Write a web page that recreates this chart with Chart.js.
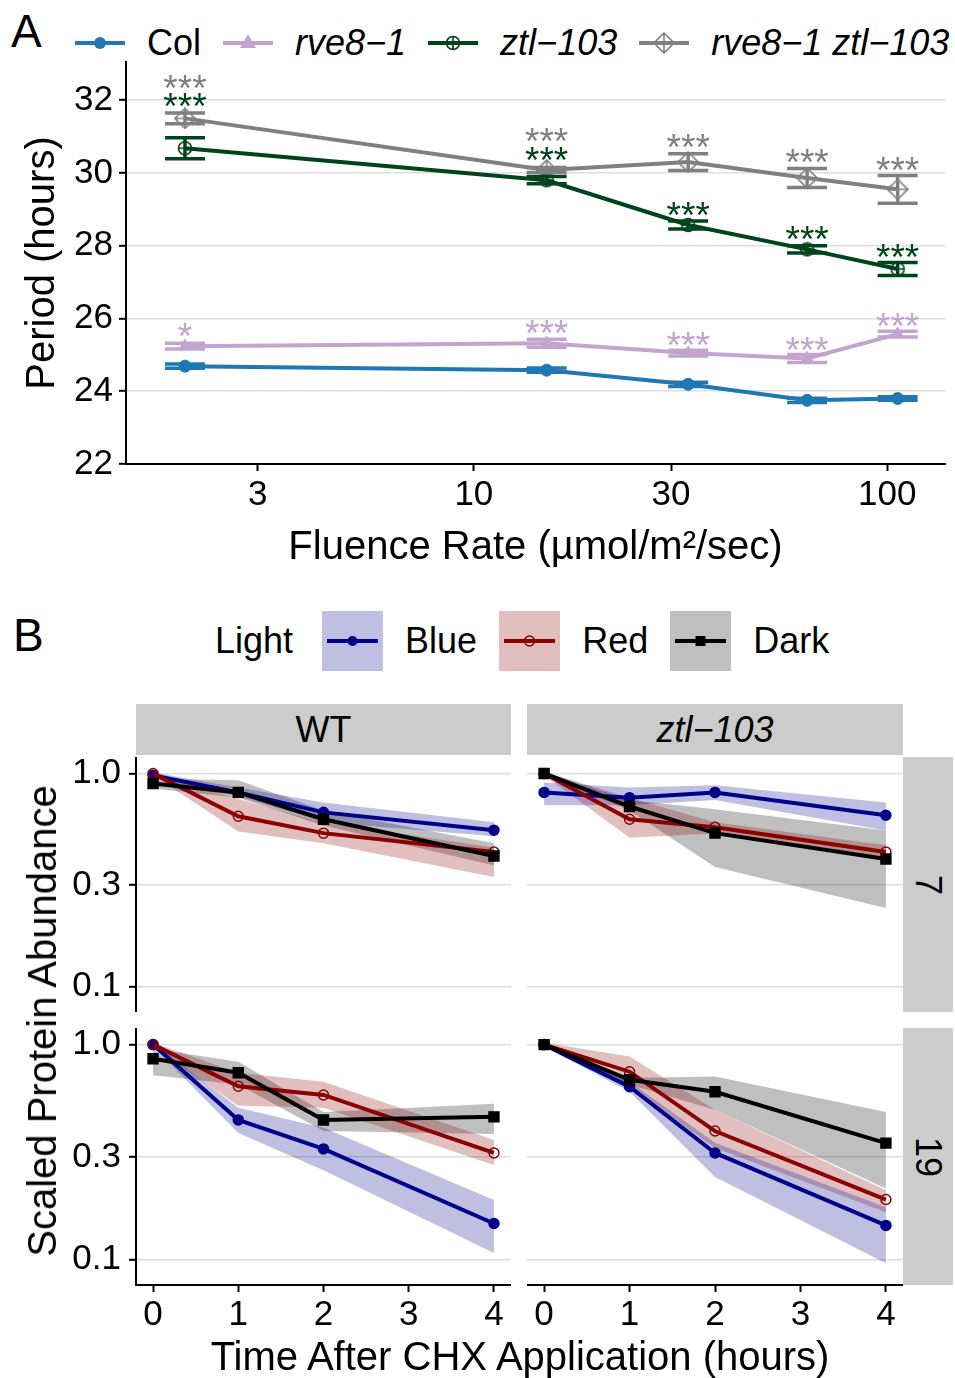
<!DOCTYPE html>
<html>
<head>
<meta charset="utf-8">
<script src="https://cdn.jsdelivr.net/npm/chart.js@4.4.1/dist/chart.umd.min.js"></script>
<style>
body { margin:0; background:#fff; }
#wrap { position:relative; width:955px; height:1378px; background:#fff; overflow:hidden;
        font-family:"Liberation Sans", Arial, sans-serif; color:#000; }
canvas { position:absolute; }
.tag { position:absolute; font-size:46px; line-height:1; }
.legend { position:absolute; display:flex; align-items:center; font-size:36px; white-space:nowrap; }
.legend canvas { position:static; }
.strip { position:absolute; background:#cccccc; display:flex; align-items:center; justify-content:center; font-size:36px; }
.ttl { position:absolute; font-size:40px; white-space:nowrap; line-height:1; }
</style>
</head>
<body>
<div id="wrap">
  <div class="tag" style="left:11px;top:8px;">A</div>
  <div class="legend" id="legA" style="left:75px;top:22px;height:42px;"></div>
  <canvas id="chartA" width="955" height="580" style="left:0;top:0;"></canvas>

  <div class="tag" style="left:13px;top:612px;">B</div>
  <div class="legend" id="legB" style="left:215px;top:611px;height:60px;"></div>

  <div class="strip" style="left:136px;top:704px;width:375px;height:51px;">WT</div>
  <div class="strip" style="left:527px;top:704px;width:376px;height:51px;"><i>ztl−103</i></div>
  <div class="strip" style="left:903px;top:757px;width:50px;height:255px;"><span style="transform:rotate(90deg)">7</span></div>
  <div class="strip" style="left:903px;top:1028px;width:50px;height:257px;"><span style="transform:rotate(90deg)">19</span></div>

  <canvas id="wt7" width="511" height="255" style="left:0;top:757px;"></canvas>
  <canvas id="ztl7" width="376" height="255" style="left:527px;top:757px;"></canvas>
  <canvas id="wt19" width="511" height="312" style="left:0;top:1028px;"></canvas>
  <canvas id="ztl19" width="376" height="312" style="left:527px;top:1028px;"></canvas>

  <div class="ttl" style="left:42px;top:1021px;transform:translate(-50%,-50%) rotate(-90deg);">Scaled Protein Abundance</div>
  <div class="ttl" style="left:520px;top:1356px;transform:translate(-50%,-50%);">Time After CHX Application (hours)</div>
</div>

<script>
// ---------- panel A : free-running period vs fluence rate ----------
var FLUENCE = [2, 15, 33, 64, 106];
var GENOTYPES = ['Col', 'rve8−1', 'ztl−103', 'rve8−1 ztl−103'];
var PERIOD_COL    = [24.69, 24.58, 24.19, 23.75, 23.80];
var PERIOD_RVE8   = [25.24, 25.32, 25.05, 24.90, 25.57];
var PERIOD_ZTL    = [30.68, 29.80, 28.57, 27.90, 27.36];
var PERIOD_DOUBLE = [31.50, 30.08, 30.30, 29.86, 29.55];
var SE_COL    = [0.06, 0.06, 0.06, 0.06, 0.05];
var SE_RVE8   = [0.08, 0.11, 0.08, 0.11, 0.08];
var SE_ZTL    = [0.29, 0.10, 0.11, 0.10, 0.18];
var SE_DOUBLE = [0.15, 0.07, 0.23, 0.26, 0.38];
var SIG_RVE8   = ['*', '***', '***', '***', '***'];
var SIG_ZTL    = ['***', '***', '***', '***', '***'];
var SIG_DOUBLE = ['***', '***', '***', '***', '***'];
var SIGY_RVE8   = [25.74, 25.82, 25.49, 25.35, 26.01];
var SIGY_ZTL    = [32.05, 30.57, 29.06, 28.40, 27.91];
var SIGY_DOUBLE = [32.55, 31.09, 30.93, 30.52, 30.30];
var Y_TICKS_A = [22, 24, 26, 28, 30, 32];
var X_TICKS_A = [3, 10, 30, 100];

// ---------- panel B : protein abundance after CHX ----------
var HOURS = [0, 1, 2, 4];
var LIGHTS = ['Blue', 'Red', 'Dark'];
var X_TICKS_B = [0, 1, 2, 3, 4];
var Y_TICKS_B = [0.1, 0.3, 1.0];

var WT7_BLUE = [0.98, 0.815, 0.657, 0.542];
var WT7_BLUE_LO = [0.95, 0.78, 0.59, 0.507];
var WT7_BLUE_HI = [1.01, 0.86, 0.73, 0.59];
var WT7_RED = [1.0, 0.63, 0.525, 0.428];
var WT7_RED_LO = [0.98, 0.535, 0.47, 0.327];
var WT7_RED_HI = [1.02, 0.76, 0.59, 0.45];
var WT7_DARK = [0.898, 0.815, 0.61, 0.41];
var WT7_DARK_LO = [0.85, 0.77, 0.57, 0.37];
var WT7_DARK_HI = [0.946, 0.93, 0.67, 0.47];

var ZTL7_BLUE = [0.815, 0.77, 0.815, 0.637];
var ZTL7_BLUE_LO = [0.71, 0.71, 0.75, 0.54];
var ZTL7_BLUE_HI = [0.907, 0.86, 0.88, 0.73];
var ZTL7_RED = [1.0, 0.61, 0.56, 0.428];
var ZTL7_RED_LO = [0.98, 0.5, 0.525, 0.405];
var ZTL7_RED_HI = [1.02, 0.77, 0.59, 0.46];
var ZTL7_DARK = [1.0, 0.70, 0.525, 0.397];
var ZTL7_DARK_LO = [0.98, 0.67, 0.364, 0.234];
var ZTL7_DARK_HI = [1.02, 0.75, 0.68, 0.54];

var WT19_BLUE = [1.0, 0.446, 0.327, 0.147];
var WT19_BLUE_LO = [0.98, 0.388, 0.26, 0.107];
var WT19_BLUE_HI = [1.02, 0.508, 0.41, 0.189];
var WT19_RED = [1.0, 0.64, 0.583, 0.313];
var WT19_RED_LO = [0.98, 0.519, 0.508, 0.275];
var WT19_RED_HI = [1.02, 0.74, 0.672, 0.36];
var WT19_DARK = [0.86, 0.74, 0.446, 0.461];
var WT19_DARK_LO = [0.72, 0.652, 0.396, 0.384];
var WT19_DARK_HI = [0.957, 0.833, 0.486, 0.53];

var ZTL19_BLUE = [1.0, 0.637, 0.313, 0.144];
var ZTL19_BLUE_LO = [0.98, 0.603, 0.242, 0.096];
var ZTL19_BLUE_HI = [1.02, 0.672, 0.349, 0.175];
var ZTL19_RED = [1.0, 0.748, 0.396, 0.19];
var ZTL19_RED_LO = [0.98, 0.637, 0.33, 0.166];
var ZTL19_RED_HI = [1.02, 0.88, 0.497, 0.21];
var ZTL19_DARK = [1.0, 0.686, 0.603, 0.348];
var ZTL19_DARK_LO = [0.98, 0.65, 0.497, 0.214];
var ZTL19_DARK_HI = [1.02, 0.70, 0.71, 0.486];

var COLORS_A = ['#1f78b4', '#c2a5cf', '#00441b', '#808080'];
var COLORS_B = ['#00008b', '#8b0000', '#000000'];
var RIBBON_B = ['rgba(0,0,139,0.25)', 'rgba(139,0,0,0.25)', 'rgba(0,0,0,0.25)'];
var FONT = '"Liberation Sans", Arial, sans-serif';

Chart.defaults.font.family = FONT;
Chart.defaults.color = '#000';

// hollow ggplot-style symbols (shape 10 and 9)
function markerCanvas(shape, color, size)
{
  var c = document.createElement('canvas');
  c.width = size; c.height = size;
  var g = c.getContext('2d');
  var m = size / 2;
  g.strokeStyle = color;
  g.lineWidth = 1.6;
  g.beginPath();
  if (shape == 'circlePlus') {
    g.arc(m, m, m - 1.5, 0, Math.PI * 2);
  } else {
    g.moveTo(m, 1); g.lineTo(size - 1, m); g.lineTo(m, size - 1); g.lineTo(1, m); g.closePath();
  }
  g.moveTo(1.5, m); g.lineTo(size - 1.5, m);
  g.moveTo(m, 1.5); g.lineTo(m, size - 1.5);
  g.stroke();
  return c;
}

var MARK_ZTL = markerCanvas('circlePlus', COLORS_A[2], 16);
var MARK_DOUBLE = markerCanvas('diamondPlus', COLORS_A[3], 22);

function toPoints(xs, ys)
{
  var out = [];
  for (var i = 0; i < xs.length; i++) out.push({x: xs[i], y: ys[i]});
  return out;
}

// no automatic label padding, the panel must fill its canvas exactly
function noPadding(s)
{
  s.paddingTop = 0; s.paddingBottom = 0; s.paddingLeft = 0; s.paddingRight = 0;
}

// error bars + significance stars
var errorBarPlugin = {
  id: 'errorBars',
  afterDatasetsDraw: function(chart) {
    var ctx = chart.ctx, xs = chart.scales.x, ys = chart.scales.y;
    chart.data.datasets.forEach(function(ds) {
      ctx.save();
      ctx.strokeStyle = ds.borderColor;
      ctx.lineWidth = 3.5;
      ds.data.forEach(function(p, i) {
        var x = xs.getPixelForValue(p.x);
        var top = ys.getPixelForValue(p.y + ds.errors[i]);
        var bot = ys.getPixelForValue(p.y - ds.errors[i]);
        ctx.beginPath();
        ctx.moveTo(x - 20, top); ctx.lineTo(x + 20, top);
        ctx.moveTo(x, top); ctx.lineTo(x, bot);
        ctx.moveTo(x - 20, bot); ctx.lineTo(x + 20, bot);
        ctx.stroke();
      });
      if (ds.sig) {
        ctx.fillStyle = ds.borderColor;
        ctx.font = '37px ' + FONT;
        ctx.textAlign = 'center';
        ctx.textBaseline = 'alphabetic';
        ds.data.forEach(function(p, i) {
          ctx.fillText(ds.sig[i], xs.getPixelForValue(p.x), ys.getPixelForValue(ds.sigY[i]) + 21);
        });
      }
      ctx.restore();
    });
  }
};

function seriesA(idx, vals, errs, style, radius, sig, sigY)
{
  return {
    label: GENOTYPES[idx],
    data: toPoints(FLUENCE, vals),
    errors: errs, sig: sig, sigY: sigY,
    borderColor: COLORS_A[idx],
    backgroundColor: COLORS_A[idx],
    borderWidth: 4,
    pointStyle: style,
    pointRadius: radius,
    pointBorderWidth: 1,
    tension: 0,
    fill: false,
    order: 4 - idx
  };
}

new Chart(document.getElementById('chartA'), {
  type: 'line',
  data: {
    datasets: [
      seriesA(0, PERIOD_COL, SE_COL, 'circle', 6, null, null),
      seriesA(1, PERIOD_RVE8, SE_RVE8, 'triangle', 7, SIG_RVE8, SIGY_RVE8),
      seriesA(2, PERIOD_ZTL, SE_ZTL, MARK_ZTL, 8, SIG_ZTL, SIGY_ZTL),
      seriesA(3, PERIOD_DOUBLE, SE_DOUBLE, MARK_DOUBLE, 11, SIG_DOUBLE, SIGY_DOUBLE)
    ]
  },
  options: {
    responsive: false,
    animation: false,
    layout: { autoPadding: false, padding: { top: 62, right: 10, left: 0, bottom: 0 } },
    plugins: { legend: { display: false }, tooltip: { enabled: false } },
    scales: {
      x: {
        type: 'logarithmic', min: 1.44, max: 138,
        afterBuildTicks: function(s) { s.ticks = X_TICKS_A.map(function(v) { return {value: v}; }); },
        afterFit: function(s) { s.height = 116; },
        ticks: { callback: function(v) { return String(v); }, font: { size: 35 }, padding: 3, maxRotation: 0, autoSkip: false },
        grid: { drawOnChartArea: false, tickColor: '#000', tickLength: 7, tickWidth: 2 },
        border: { color: '#000', width: 2 },
        title: { display: true, text: 'Fluence Rate (µmol/m²/sec)', font: { size: 40 }, padding: { top: 0, bottom: 8 } }
      },
      y: {
        min: 22, max: 33.05,
        afterBuildTicks: function(s) { s.ticks = Y_TICKS_A.map(function(v) { return {value: v}; }); },
        afterFit: function(s) { s.width = 126; },
        ticks: { font: { size: 35 }, padding: 6 },
        grid: { color: '#dedede', lineWidth: 1.6, tickColor: '#000', tickLength: 7, tickWidth: 2 },
        border: { color: '#000', width: 2 },
        title: { display: true, text: 'Period (hours)', font: { size: 40 }, padding: { top: 19, bottom: 0 } }
      }
    }
  },
  plugins: [errorBarPlugin]
});

// legend A
function drawKeyA(idx)
{
  var c = document.createElement('canvas');
  c.width = 50; c.height = 30;
  var g = c.getContext('2d');
  g.strokeStyle = COLORS_A[idx]; g.fillStyle = COLORS_A[idx]; g.lineWidth = 4;
  g.beginPath(); g.moveTo(0, 15); g.lineTo(50, 15); g.stroke();
  if (idx == 0) { g.beginPath(); g.arc(25, 15, 6, 0, Math.PI * 2); g.fill(); }
  if (idx == 1) { g.beginPath(); g.moveTo(25, 6); g.lineTo(33, 20); g.lineTo(17, 20); g.closePath(); g.fill(); }
  if (idx == 2) g.drawImage(MARK_ZTL, 17, 7);
  if (idx == 3) g.drawImage(MARK_DOUBLE, 14, 4);
  return c;
}
var legA = document.getElementById('legA');
GENOTYPES.forEach(function(name, i) {
  var k = drawKeyA(i);
  k.style.marginRight = '22px';
  legA.appendChild(k);
  var t = document.createElement('span');
  t.textContent = name;
  if (i > 0) t.style.fontStyle = 'italic';
  t.style.marginRight = '22px';
  legA.appendChild(t);
});

// ---------- panel B facets ----------
var POINT_B = [
  { style: 'circle', radius: 5, bg: COLORS_B[0] },
  { style: 'circle', radius: 5, bg: 'rgba(0,0,0,0)' },
  { style: 'rect', radius: 7, bg: COLORS_B[2] }
];

function facetDatasets(means, los, his)
{
  var sets = [];
  for (var k = 0; k < 3; k++) {
    sets.push({
      label: LIGHTS[k], data: toPoints(HOURS, means[k]),
      borderColor: COLORS_B[k], backgroundColor: POINT_B[k].bg,
      pointBackgroundColor: POINT_B[k].bg, pointBorderColor: COLORS_B[k],
      pointStyle: POINT_B[k].style, pointRadius: POINT_B[k].radius, pointBorderWidth: 1.5,
      borderWidth: 4, tension: 0, fill: false, order: 3 - k
    });
  }
  for (var k = 0; k < 3; k++) {
    sets.push({
      label: LIGHTS[k] + ' hi', data: toPoints(HOURS, his[k]),
      borderWidth: 0, pointRadius: 0, backgroundColor: RIBBON_B[k], fill: '+1', order: 10
    });
    sets.push({
      label: LIGHTS[k] + ' lo', data: toPoints(HOURS, los[k]),
      borderWidth: 0, pointRadius: 0, fill: false, order: 10
    });
  }
  return sets;
}

function makeFacet(id, means, los, his, showX, showY)
{
  new Chart(document.getElementById(id), {
    type: 'line',
    data: { datasets: facetDatasets(means, los, his) },
    options: {
      responsive: false,
      animation: false,
      layout: { autoPadding: false, padding: 0 },
      plugins: { legend: { display: false }, tooltip: { enabled: false },
                 filler: { propagate: false, drawTime: 'beforeDatasetsDraw' } },
      scales: {
        x: {
          type: 'linear', min: -0.2, max: 4.2, display: showX,
          afterBuildTicks: function(s) { s.ticks = X_TICKS_B.map(function(v) { return {value: v}; }); },
          afterFit: function(s) { s.height = showX ? 55 : 0; noPadding(s); },
          ticks: { font: { size: 35 }, padding: 2, maxRotation: 0, autoSkip: false },
          grid: { drawOnChartArea: false, tickColor: '#000', tickLength: 7, tickWidth: 2 },
          border: { color: '#000', width: 2 }
        },
        y: {
          type: 'logarithmic', min: 0.076, max: 1.195,
          afterBuildTicks: function(s) { s.ticks = Y_TICKS_B.map(function(v) { return {value: v}; }); },
          afterFit: function(s) { s.width = showY ? 136 : 0; noPadding(s); },
          ticks: { display: showY, font: { size: 35 }, padding: 8,
                   callback: function(v) { return Number(v).toFixed(1); } },
          grid: { color: '#dedede', lineWidth: 1.6, tickColor: '#000', tickLength: 7, tickWidth: 2, drawTicks: showY },
          border: { display: showY, color: '#000', width: 2 }
        }
      }
    }
  });
}

makeFacet('wt7', [WT7_BLUE, WT7_RED, WT7_DARK], [WT7_BLUE_LO, WT7_RED_LO, WT7_DARK_LO], [WT7_BLUE_HI, WT7_RED_HI, WT7_DARK_HI], false, true);
makeFacet('ztl7', [ZTL7_BLUE, ZTL7_RED, ZTL7_DARK], [ZTL7_BLUE_LO, ZTL7_RED_LO, ZTL7_DARK_LO], [ZTL7_BLUE_HI, ZTL7_RED_HI, ZTL7_DARK_HI], false, false);
makeFacet('wt19', [WT19_BLUE, WT19_RED, WT19_DARK], [WT19_BLUE_LO, WT19_RED_LO, WT19_DARK_LO], [WT19_BLUE_HI, WT19_RED_HI, WT19_DARK_HI], true, true);
makeFacet('ztl19', [ZTL19_BLUE, ZTL19_RED, ZTL19_DARK], [ZTL19_BLUE_LO, ZTL19_RED_LO, ZTL19_DARK_LO], [ZTL19_BLUE_HI, ZTL19_RED_HI, ZTL19_DARK_HI], true, false);

// legend B
var legB = document.getElementById('legB');
var title = document.createElement('span');
title.textContent = 'Light';
title.style.marginRight = '29px';
legB.appendChild(title);
LIGHTS.forEach(function(name, k) {
  var c = document.createElement('canvas');
  c.width = 61; c.height = 60;
  var g = c.getContext('2d');
  g.fillStyle = RIBBON_B[k]; g.fillRect(0, 0, 61, 60);
  g.strokeStyle = COLORS_B[k]; g.lineWidth = 4;
  g.beginPath(); g.moveTo(5, 30); g.lineTo(56, 30); g.stroke();
  g.lineWidth = 1.5;
  if (k == 0) { g.fillStyle = COLORS_B[0]; g.beginPath(); g.arc(30.5, 30, 5, 0, Math.PI * 2); g.fill(); }
  if (k == 1) { g.fillStyle = '#fff'; g.beginPath(); g.arc(30.5, 30, 5, 0, Math.PI * 2); g.stroke(); }
  if (k == 2) { g.fillStyle = '#000'; g.fillRect(25.5, 25, 10, 10); }
  c.style.marginRight = '22px';
  legB.appendChild(c);
  var t = document.createElement('span');
  t.textContent = name;
  t.style.marginRight = '22px';
  legB.appendChild(t);
});
</script>
</body>
</html>
